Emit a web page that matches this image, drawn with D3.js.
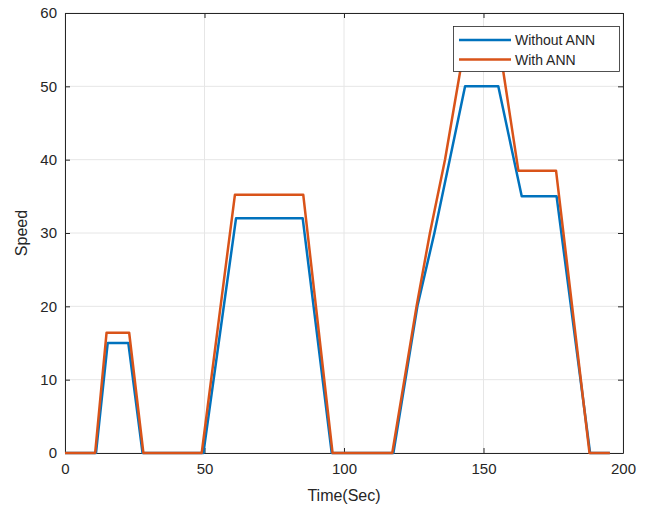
<!DOCTYPE html>
<html>
<head>
<meta charset="utf-8">
<script src="https://cdn.jsdelivr.net/npm/d3@7"></script>
<style>
  body { margin: 0; background: #fff; }
  svg text { font-family: "Liberation Sans", Arial, sans-serif; fill: #262626; }
</style>
</head>
<body>
<svg id="plot" width="653" height="510"></svg>
<script>
// data (time in sec, speed)
var timeWithout  = [0, 11.1, 15.3, 22.7, 27.8, 49.6, 61.3, 85.2, 95.6, 117.7, 126.3, 132.4, 137.9, 143.4, 155.3, 163.7, 176.2, 188.2, 195.3];
var speedWithout = [0, 0,    15.0, 15.0, 0,    0,    32.0, 32.0, 0,    0,     20,    30,    40,    50.0,  50.0,  35.0,  35.0,  0,     0];

var timeWith  = [0, 10.8, 14.9, 23.0, 28.1, 49.0, 60.9, 85.4, 95.9, 117.3, 126.0, 130.8, 136.2, 143.2, 155.7, 162.5, 176.0, 188.0, 195.3];
var speedWith = [0, 0,    16.4, 16.4, 0,    0,    35.2, 35.2, 0,    0,     20,    30,    40,    55.5,  55.5,  38.5,  38.5,  0,     0];

var seriesNames = ["Without ANN", "With ANN"];
var xTicks = [0, 50, 100, 150, 200];
var yTicks = [0, 10, 20, 30, 40, 50, 60];

// plot box (note: "top" is taken by window.top, so use m*)
var mLeft = 65, mRight = 623, mTop = 13, mBottom = 453;
var svg = d3.select("#plot");

var x = d3.scaleLinear().domain([0, 200]).range([mLeft, mRight]);
var y = d3.scaleLinear().domain([0, 60]).range([mBottom, mTop]);

// grid
svg.append("g").selectAll("line").data(xTicks).enter().append("line")
    .attr("x1", function(d){ return x(d); }).attr("x2", function(d){ return x(d); })
    .attr("y1", mTop).attr("y2", mBottom)
    .style("stroke", "#e6e6e6").style("stroke-width", 1);
svg.append("g").selectAll("line").data(yTicks).enter().append("line")
    .attr("x1", mLeft).attr("x2", mRight)
    .attr("y1", function(d){ return y(d); }).attr("y2", function(d){ return y(d); })
    .style("stroke", "#e6e6e6").style("stroke-width", 1);

// lines
var line = d3.line()
    .x(function(d){ return x(d[0]); })
    .y(function(d){ return y(d[1]); });

var data = [
    { name: seriesNames[0], color: "#0072BD", pts: d3.zip(timeWithout, speedWithout) },
    { name: seriesNames[1], color: "#D95319", pts: d3.zip(timeWith, speedWith) }
];

// axes, ticks point inward like matlab
var xAxis = svg.append("g").attr("transform", "translate(0," + mBottom + ")")
    .call(d3.axisBottom(x).tickValues(xTicks).tickSizeInner(-5).tickSizeOuter(0).tickPadding(10));
var xTop = svg.append("g").attr("transform", "translate(0," + mTop + ")")
    .call(d3.axisTop(x).tickValues(xTicks).tickSizeInner(-5).tickSizeOuter(0).tickFormat(""));
var yAxis = svg.append("g").attr("transform", "translate(" + mLeft + ",0)")
    .call(d3.axisLeft(y).tickValues(yTicks).tickSizeInner(-5).tickSizeOuter(0).tickPadding(8));
var yRight = svg.append("g").attr("transform", "translate(" + mRight + ",0)")
    .call(d3.axisRight(y).tickValues(yTicks).tickSizeInner(-5).tickSizeOuter(0).tickFormat(""));

[xAxis, xTop, yAxis, yRight].forEach(function(a){
    a.selectAll("path").style("stroke", "#262626");
    a.selectAll("line").style("stroke", "#262626");
    a.selectAll("text").style("font-size", "15px").style("fill", "#262626")
        .style("font-family", "'Liberation Sans', Arial, sans-serif");
});

svg.append("g").selectAll("path").data(data).enter().append("path")
    .attr("d", function(d){ return line(d.pts); })
    .style("fill", "none")
    .style("stroke", function(d){ return d.color; })
    .style("stroke-width", 2.5)
    .style("stroke-linejoin", "round");

// labels
svg.append("text").attr("x", (mLeft + mRight) / 2).attr("y", 501)
    .attr("text-anchor", "middle").style("font-size", "16px").text("Time(Sec)");
svg.append("text").attr("transform", "translate(27," + ((mTop + mBottom) / 2) + ") rotate(-90)")
    .attr("text-anchor", "middle").style("font-size", "16px").text("Speed");

// legend
var lg = svg.append("g");
lg.append("rect").attr("x", 453.5).attr("y", 26.5).attr("width", 166).attr("height", 45)
    .style("fill", "#fff").style("stroke", "#262626").style("stroke-width", 0.8);
var rows = lg.selectAll("g").data(data).enter().append("g")
    .attr("transform", function(d, i){ return "translate(0," + (40 + i * 19.5) + ")"; });
rows.append("line").attr("x1", 459).attr("x2", 511).attr("y1", 0).attr("y2", 0)
    .style("stroke", function(d){ return d.color; }).style("stroke-width", 2.5);
rows.append("text").attr("x", 515).attr("y", 5).style("font-size", "14px")
    .text(function(d){ return d.name; });
</script>
</body>
</html>
